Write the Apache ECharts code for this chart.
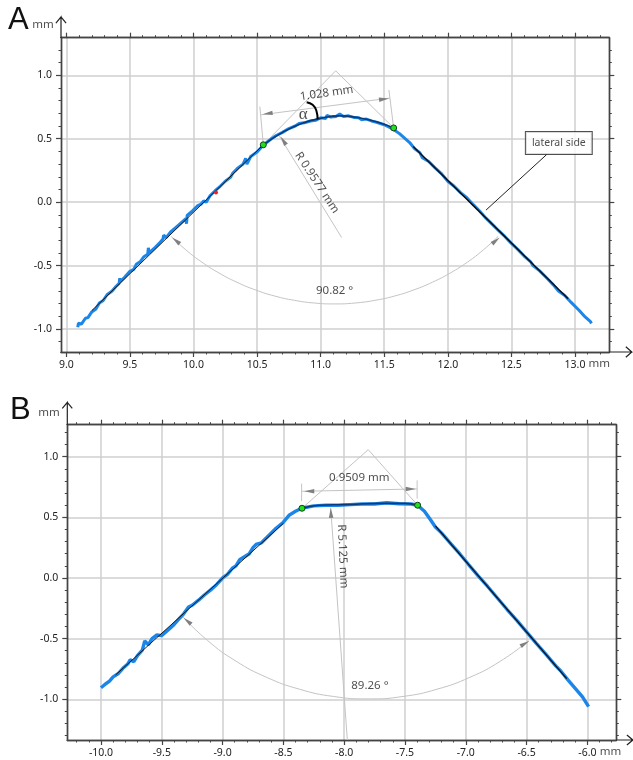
<!DOCTYPE html>
<html><head><meta charset="utf-8">
<style>html,body{margin:0;padding:0;background:#fff}#c{width:633px;height:760px}</style>
<script src="https://cdn.jsdelivr.net/npm/echarts@6/dist/echarts.min.js"></script>
</head><body><div id="c"></div>
<script>
// ---------- Axis ranges and ticks ----------
const rangeXA=[8.958,13.27], rangeYA=[-1.181,1.296];
const rangeXB=[-10.277,-5.762], rangeYB=[-1.336,1.264];
const majorXA=[9,9.5,10,10.5,11,11.5,12,12.5,13];
const majorYA=[-1,-0.5,0,0.5,1];
const majorXB=[-10,-9.5,-9,-8.5,-8,-7.5,-7,-6.5,-6];
const majorYB=[-1,-0.5,0,0.5,1];
const minorXA=[9,9.1,9.2,9.3,9.4,9.5,9.6,9.7,9.8,9.9,10,10.1,10.2,10.3,10.4,10.5,10.6,10.7,10.8,10.9,11,11.1,11.2,11.3,11.4,11.5,11.6,11.7,11.8,11.9,12,12.1,12.2,12.3,12.4,12.5,12.6,12.7,12.8,12.9,13,13.1,13.2];
const minorXB=[-10.2,-10.1,-10,-9.9,-9.8,-9.7,-9.6,-9.5,-9.4,-9.3,-9.2,-9.1,-9,-8.9,-8.8,-8.7,-8.6,-8.5,-8.4,-8.3,-8.2,-8.1,-8,-7.9,-7.8,-7.7,-7.6,-7.5,-7.4,-7.3,-7.2,-7.1,-7,-6.9,-6.8,-6.7,-6.6,-6.5,-6.4,-6.3,-6.2,-6.1,-6,-5.9,-5.8];
const minorYA=[-1.1,-1,-0.9,-0.8,-0.7,-0.6,-0.5,-0.4,-0.3,-0.2,-0.1,0,0.1,0.2,0.3,0.4,0.5,0.6,0.7,0.8,0.9,1,1.1,1.2];
const minorYB=[-1.3,-1.2,-1.1,-1,-0.9,-0.8,-0.7,-0.6,-0.5,-0.4,-0.3,-0.2,-0.1,0,0.1,0.2,0.3,0.4,0.5,0.6,0.7,0.8,0.9,1,1.1,1.2];

// ---------- Panel A measured profile ----------
const profileA=[[9.09,-.985],[9.095,-.955],[9.12,-.96],[9.15,-.915],[9.17,-.91],[9.2,-.865],[9.23,-.845],[9.26,-.795],[9.29,-.775],[9.32,-.73],[9.36,-.7],[9.39,-.665],[9.415,-.64],[9.42,-.6],[9.425,-.625],[9.46,-.59],[9.5,-.545],[9.53,-.53],[9.55,-.49],[9.58,-.47],[9.61,-.43],[9.64,-.41],[9.645,-.36],[9.652,-.4],[9.69,-.365],[9.73,-.325],[9.76,-.29],[9.765,-.26],[9.785,-.28],[9.82,-.235],[9.86,-.2],[9.9,-.165],[9.94,-.13],[9.945,-.17],[9.95,-.105],[9.99,-.07],[10.03,-.03],[10.06,-.015],[10.08,.01],[10.1,0],[10.13,.05],[10.17,.09],[10.21,.125],[10.25,.165],[10.29,.195],[10.31,.23],[10.35,.27],[10.39,.3],[10.41,.345],[10.42,.3],[10.45,.36],[10.5,.395],[10.55,.45],[10.6,.49],[10.65,.525],[10.7,.55],[10.75,.58],[10.8,.6],[10.83,.62],[10.87,.625],[10.92,.64],[10.96,.645],[11,.665],[11.04,.66],[11.05,.685],[11.08,.67],[11.12,.675],[11.15,.695],[11.18,.675],[11.22,.68],[11.26,.668],[11.3,.665],[11.32,.65],[11.36,.655],[11.4,.64],[11.44,.63],[11.5,.61],[11.57,.575],[11.62,.54],[11.66,.505],[11.7,.47],[11.74,.42],[11.78,.39],[11.8,.35],[11.85,.32],[11.9,.27],[11.95,.225],[12,.165],[12.05,.125],[12.1,.075],[12.15,.035],[12.2,-.02],[12.25,-.07],[12.3,-.126],[12.35,-.175],[12.4,-.225],[12.45,-.272],[12.5,-.325],[12.55,-.372],[12.6,-.425],[12.65,-.468],[12.67,-.5],[12.72,-.54],[12.78,-.6],[12.83,-.652],[12.87,-.7],[12.92,-.735],[12.97,-.79],[13.03,-.85],[13.08,-.905],[13.12,-.94],[13.13,-.955]];
const fitLeftA=[[9.2,-.855],[10.549,.452]];
const fitArcA=[[10.549,.452],[10.7,.55],[10.85,.62],[11,.66],[11.15,.68],[11.3,.665],[11.45,.63],[11.574,.585]];
const fitRightA=[[11.728,.438],[12.946,-.762]];
const chordA=[[10.528,.688],[11.545,.82]];
const extLeftA=[[10.522,.753],[10.549,.452]];
const extRightA=[[11.537,.884],[11.574,.585]];
const triangleA=[[10.549,.452],[11.118,1.035],[11.574,.585]];
const radiusA=[[10.675,.522],[11.165,-.279]];
const angleArcA=[[9.823,-.269],[9.94,-.376],[10.066,-.473],[10.2,-.558],[10.341,-.631],[10.488,-.692],[10.639,-.74],[10.794,-.774],[10.951,-.795],[11.11,-.802],[11.269,-.795],[11.426,-.774],[11.581,-.74],[11.732,-.692],[11.879,-.631],[12.02,-.558],[12.154,-.473],[12.28,-.376],[12.397,-.269]];
const alphaArcA=[[10.89,.788],[10.937,.767],[10.966,.722],[10.976,.654]];
const leaderA=[[12.777,.375],[12.3,-.063]];
const greenA=[[10.549,.452],[11.574,.585]];
const redA=[[10.177,.076]];
const arrowsA=[[10.583,.698,98],[11.498,.812,-82],[10.706,.485,33],[9.862,-.303,50],[12.378,-.303,-50]];
const xArrowA=[[13.27,-1.181],[13.447,-1.181],[13.4,-1.14],[13.447,-1.181],[13.4,-1.222]];
const yArrowA=[[8.958,1.296],[8.958,1.46],[8.918,1.41],[8.958,1.46],[8.998,1.41]];

// ---------- Panel B measured profile ----------
const profileB=[[-10,-.905],[-9.97,-.88],[-9.93,-.85],[-9.9,-.815],[-9.86,-.79],[-9.82,-.745],[-9.78,-.71],[-9.76,-.675],[-9.73,-.69],[-9.7,-.64],[-9.66,-.595],[-9.64,-.52],[-9.61,-.55],[-9.58,-.5],[-9.54,-.47],[-9.5,-.475],[-9.45,-.43],[-9.4,-.385],[-9.36,-.34],[-9.32,-.295],[-9.28,-.24],[-9.25,-.225],[-9.2,-.185],[-9.15,-.14],[-9.1,-.1],[-9.05,-.055],[-9,0],[-8.96,.03],[-8.92,.08],[-8.89,.1],[-8.86,.15],[-8.82,.175],[-8.78,.2],[-8.75,.25],[-8.72,.28],[-8.68,.29],[-8.62,.35],[-8.56,.41],[-8.5,.46],[-8.45,.52],[-8.4,.55],[-8.35,.575],[-8.25,.595],[-8.15,.6],[-8.05,.6],[-7.95,.605],[-7.85,.61],[-7.75,.61],[-7.65,.62],[-7.55,.612],[-7.45,.61],[-7.396,.6],[-7.34,.55],[-7.29,.48],[-7.25,.42],[-7.2,.372],[-7.12,.28],[-7.05,.2],[-6.98,.115],[-6.9,.02],[-6.82,-.07],[-6.74,-.165],[-6.66,-.26],[-6.58,-.35],[-6.5,-.445],[-6.42,-.54],[-6.34,-.63],[-6.26,-.725],[-6.22,-.765],[-6.16,-.84],[-6.1,-.91],[-6.04,-.98],[-5.99,-1.06]];
const fitLeftB=[[-9.88,-.8],[-8.5,.45]];
const fitArcB=[[-8.347,.575],[-8.2,.6],[-8,.605],[-7.7,.615],[-7.5,.615],[-7.396,.6]];
const fitRightB=[[-7.25,.43],[-6.17,-.83]];
const chordB=[[-8.35,.715],[-7.4,.734]];
const extLeftB=[[-8.35,.778],[-8.35,.635]];
const extRightB=[[-7.4,.805],[-7.4,.654]];
const triangleB=[[-8.347,.575],[-7.802,1.058],[-7.396,.6]];
const radiusB=[[-8.111,.58],[-7.974,-1.336]];
const angleArcB=[[-9.329,-.317],[-9.123,-.516],[-8.891,-.685],[-8.638,-.819],[-8.368,-.917],[-8.088,-.977],[-7.802,-.997],[-7.516,-.977],[-7.236,-.917],[-6.966,-.819],[-6.713,-.685],[-6.481,-.516]];
const greenB=[[-8.347,.575],[-7.396,.6]];
const arrowsB=[[-8.287,.715,90],[-7.453,.734,-90],[-8.109,.536,3],[-9.29,-.354,50],[-6.513,-.541,-60]];
const xArrowB=[[-5.762,-1.336],[-5.626,-1.336],[-5.675,-1.295],[-5.626,-1.336],[-5.675,-1.377]];
const yArrowB=[[-10.277,1.264],[-10.277,1.448],[-10.318,1.398],[-10.277,1.448],[-10.236,1.398]];

// ---------- Text annotations: [x, y, text, rotation] ----------
const textsA=[[11.047,.859,'1.028 mm',8],[10.971,.154,'R 0.9577 mm',-56.5],[11.11,-.70,'90.82 °',0],[13.19,-1.274,'mm',0],[8.817,1.397,'mm',0]];
const textsB=[[-7.876,.828,'0.9509 mm',0],[-8.013,.179,'R 5.125 mm',-87.5],[-7.788,-.885,'89.26 °',0],[-5.81,-1.436,'mm',0],[-10.428,1.366,'mm',0]];
const alphaA=[[10.863,.693,'α',0]];
const boxA=[[12.873,.467,'lateral side',0]];

const FONT='Noto Sans';
const TXT='#222';
const GRID='#cfcfcf';
const AXIS='#444';

function axisSet(dim,gridIndex,range,major,minor){
  const pos=dim==='x'?['bottom','top']:['left','right'];
  const base={type:'value',gridIndex,min:range[0],max:range[1],scale:true,
    axisLine:{show:true,onZero:false,lineStyle:{color:AXIS,width:1.4}}};
  const majorTick={show:true,length:5,customValues:major,lineStyle:{color:AXIS,width:1.2}};
  const minorTick={show:true,length:2.5,customValues:minor,lineStyle:{color:AXIS,width:1}};
  return [
    Object.assign({},base,{position:pos[0],axisTick:majorTick,
      splitLine:{show:true,lineStyle:{color:GRID,width:1.5}},
      axisLabel:{show:true,customValues:major,margin:dim==='x'?8:9,color:TXT,fontFamily:FONT,fontSize:10.5,
        formatter:v=>Number(v).toFixed(1)}}),
    Object.assign({},base,{position:pos[0],axisTick:minorTick,splitLine:{show:false},axisLabel:{show:false}}),
    Object.assign({},base,{position:pos[1],axisTick:majorTick,splitLine:{show:false},axisLabel:{show:false}}),
    Object.assign({},base,{position:pos[1],axisTick:minorTick,splitLine:{show:false},axisLabel:{show:false}})
  ];
}
const xAxis=[...axisSet('x',0,rangeXA,majorXA,minorXA),...axisSet('x',1,rangeXB,majorXB,minorXB)];
const yAxis=[...axisSet('y',0,rangeYA,majorYA,minorYA),...axisSet('y',1,rangeYB,majorYB,minorYB)];

function line(p,data,color,width,extra){
  return Object.assign({type:'line',xAxisIndex:p*4,yAxisIndex:p*4,data,showSymbol:false,symbol:'none',
    silent:true,clip:false,lineStyle:{color,width},animation:false,z:3},extra||{});
}
// Axis arrows run past the axis extent, so they are drawn through the axis scale by a custom series.
function axisArrow(p,pts){
  return {type:'custom',xAxisIndex:p*4,yAxisIndex:p*4,coordinateSystem:'cartesian2d',clip:false,silent:true,animation:false,z:6,
    data:[pts[0]],
    encode:{x:0,y:1},
    renderItem:(params,api)=>({type:'polyline',shape:{points:pts.map(q=>api.coord(q))},
      style:{stroke:'#222',lineWidth:1.2,fill:null}})};
}
function dots(p,data,color,size,border){
  return {type:'scatter',xAxisIndex:p*4,yAxisIndex:p*4,data,symbolSize:size,silent:true,clip:false,animation:false,z:8,
    itemStyle:{color,borderColor:border||color,borderWidth:border?1:0,opacity:1}};
}
function arrows(p,data){
  return {type:'scatter',xAxisIndex:p*4,yAxisIndex:p*4,data,symbol:'triangle',symbolSize:[4.5,10],
    symbolRotate:v=>v[2],silent:true,clip:false,animation:false,z:5,itemStyle:{color:'#808080',opacity:1}};
}
function texts(p,data,labelExtra,z){
  return {type:'scatter',xAxisIndex:p*4,yAxisIndex:p*4,symbolSize:1,silent:true,clip:false,animation:false,z:z||9,
    itemStyle:{color:'rgba(0,0,0,0)'},
    data:data.map(d=>({value:[d[0],d[1]],label:{formatter:d[2],rotate:d[3]}})),
    label:Object.assign({show:true,position:'inside',color:TXT,fontFamily:FONT,fontSize:11.5},labelExtra||{})};
}
const THIN='#c4c4c4', BLUE='#1c86e8', BLACK='#0a0a0a';
const series=[
  // Panel A
  axisArrow(0,xArrowA), axisArrow(0,yArrowA),
  line(0,triangleA,THIN,1), line(0,chordA,THIN,1), line(0,extLeftA,THIN,1), line(0,extRightA,THIN,1),
  line(0,radiusA,THIN,1), line(0,angleArcA,THIN,1,{smooth:true}),
  line(0,profileA,BLUE,3,{z:4}),
  line(0,fitLeftA,BLACK,.9,{z:5}), line(0,fitArcA,'#083a78',1.6,{smooth:true,z:5}), line(0,fitRightA,BLACK,1.5,{z:5}),
  line(0,alphaArcA,'#000',2,{smooth:true,z:6}), line(0,leaderA,'#222',1,{z:6}),
  arrows(0,arrowsA), dots(0,greenA,'#22dd22',6,'#114411'), dots(0,redA,'#ee2222',4),
  texts(0,textsA), texts(0,alphaA,{fontFamily:'Liberation Serif',fontSize:17,color:'#222'}),
  texts(0,boxA,{backgroundColor:'#fff',borderColor:'#222',borderWidth:1,padding:[6,6,5,6],fontSize:10.5},10),
  // Panel B
  axisArrow(1,xArrowB), axisArrow(1,yArrowB),
  line(1,triangleB,THIN,1), line(1,chordB,THIN,1), line(1,extLeftB,THIN,1), line(1,extRightB,THIN,1),
  line(1,radiusB,THIN,1), line(1,angleArcB,THIN,1,{smooth:true}),
  line(1,profileB,BLUE,3.4,{z:4}),
  line(1,fitLeftB,BLACK,.9,{z:5}), line(1,fitArcB,'#083a78',1.6,{smooth:true,z:5}), line(1,fitRightB,BLACK,1.2,{z:5}),
  arrows(1,arrowsB), dots(1,greenB,'#22dd22',6,'#114411'),
  texts(1,textsB)
];
const chart=echarts.init(document.getElementById('c'),null,{renderer:'canvas'});
chart.setOption({
  animation:false,backgroundColor:'#fff',
  grid:[{left:61,top:37.7,width:548.3,height:314.3,containLabel:false},
        {left:67.3,top:424.7,width:549,height:315.3,containLabel:false}],
  xAxis,yAxis,series,
  graphic:[
    {type:'text',left:8,top:5,style:{text:'A',fontFamily:'Liberation Sans',fontSize:31,fill:'#111'}},
    {type:'text',left:10,top:395,style:{text:'B',fontFamily:'Liberation Sans',fontSize:31,fill:'#111'}}
  ]
});
</script></body></html>
